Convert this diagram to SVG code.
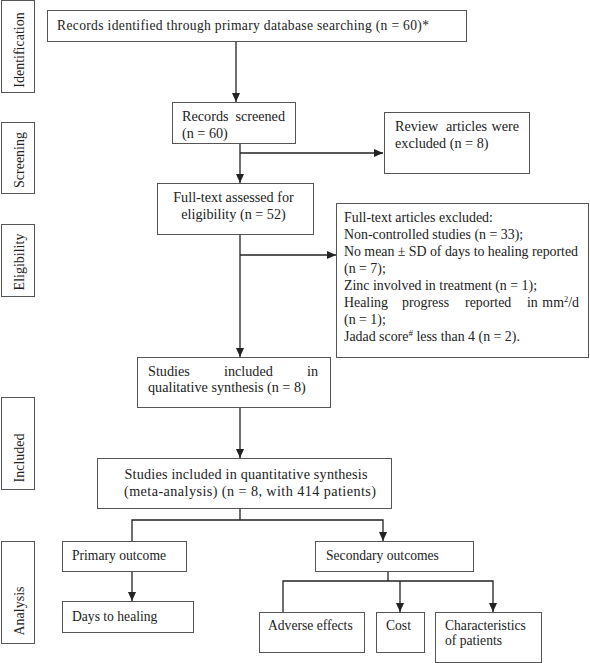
<svg xmlns="http://www.w3.org/2000/svg" width="590" height="663" viewBox="0 0 590 663">
<defs>
<marker id="ah" markerWidth="10" markerHeight="10" refX="9" refY="5" orient="auto" markerUnits="userSpaceOnUse">
<path d="M0,1 L9,5 L0,9 Z" fill="#222"/>
</marker>
<style>
.box{fill:#fff;stroke:#555;stroke-width:1}
.t{font-family:"Liberation Serif","Times New Roman",serif;font-size:13.6px;fill:#222}
.u{font-family:"Liberation Serif","Times New Roman",serif;font-size:14.2px;fill:#222}
.x{font-family:"Liberation Serif","Times New Roman",serif;font-size:13.9px;fill:#222}
.s{font-family:"Liberation Serif","Times New Roman",serif;font-size:14px;fill:#222}
.ln{fill:none;stroke:#222;stroke-width:1.3}
.ar{fill:none;stroke:#222;stroke-width:1.3;marker-end:url(#ah)}
</style>
</defs>
<rect width="590" height="663" fill="#fff"/>

<g id="side-identification"><rect class="box" x="1.5" y="0.5" width="33" height="92"/><text class="s" transform="translate(24,50) rotate(-90)" text-anchor="middle">Identification</text></g>
<g id="side-screening"><rect class="box" x="1.5" y="122.5" width="33" height="71"/><text class="s" transform="translate(24,160) rotate(-90)" text-anchor="middle">Screening</text></g>
<g id="side-eligibility"><rect class="box" x="1.5" y="224.5" width="33" height="72"/><text class="s" transform="translate(24,262) rotate(-90)" text-anchor="middle">Eligibility</text></g>
<g id="side-included"><rect class="box" x="1.5" y="397.5" width="33" height="92"/><text class="s" transform="translate(24,458) rotate(-90)" text-anchor="middle">Included</text></g>
<g id="side-analysis"><rect class="box" x="1.5" y="541.5" width="33" height="102"/><text class="s" transform="translate(24,611) rotate(-90)" text-anchor="middle">Analysis</text></g>

<g id="connectors">
<line class="ar" x1="236" y1="41" x2="236" y2="102"/>
<line class="ar" x1="240" y1="143" x2="240" y2="183"/>
<line class="ar" x1="240" y1="153" x2="383" y2="153"/>
<line class="ar" x1="240" y1="234" x2="240" y2="357"/>
<line class="ar" x1="240" y1="255" x2="336" y2="255"/>
<line class="ar" x1="240" y1="407" x2="240" y2="458"/>
<polyline class="ln" points="240,508 240,520"/>
<polyline class="ar" points="132,541 132,520 383,520 383,541"/>
<line class="ar" x1="132" y1="571" x2="132" y2="601"/>
<polyline class="ln" points="388,571 388,581"/>
<polyline class="ar" points="283,612 283,581 493,581 493,612"/>
<line class="ar" x1="400" y1="581" x2="400" y2="612"/>
</g>

<g id="n-identified"><rect class="box" x="47.5" y="10.5" width="419" height="31"/><text class="t" x="57" y="30" textLength="372" lengthAdjust="spacing">Records identified through primary database searching (n = 60)*</text></g>
<g id="n-screened"><rect class="box" x="172.5" y="102.5" width="123" height="41"/><text class="u" x="182" y="121">Records</text><text class="u" x="285" y="121" text-anchor="end">screened</text><text class="u" x="182" y="138">(n = 60)</text></g>
<g id="n-review"><rect class="box" x="384.5" y="112.5" width="145" height="61"/><text class="u" x="395" y="131">Review</text><text class="u" x="446" y="131">articles</text><text class="u" x="519" y="131" text-anchor="end">were</text><text class="u" x="395" y="148">excluded (n = 8)</text></g>
<g id="n-fulltext"><rect class="box" x="157.5" y="183.5" width="156" height="51"/><text class="u" x="233.5" y="202" text-anchor="middle">Full-text assessed for</text><text class="u" x="233.5" y="219" text-anchor="middle">eligibility (n = 52)</text></g>
<g id="n-excluded"><rect class="box" x="336.5" y="203.5" width="252" height="154"/>
<text class="x" x="344" y="222">Full-text articles excluded:</text>
<text class="x" x="344" y="239">Non-controlled studies (n = 33);</text>
<text class="x" x="344" y="256" textLength="234" lengthAdjust="spacing">No mean ± SD of days to healing reported</text>
<text class="x" x="344" y="273">(n = 7);</text>
<text class="x" x="344" y="290">Zinc involved in treatment (n = 1);</text>
<text class="x" x="344" y="307">Healing</text><text class="x" x="402" y="307">progress</text><text class="x" x="465" y="307">reported</text><text class="x" x="527" y="307">in</text><text class="x" x="579" y="307" text-anchor="end" font-size="13.2">mm<tspan font-size="8.5" dy="-5">2</tspan><tspan dy="5">/d</tspan></text>
<text class="x" x="344" y="324">(n = 1);</text>
<text class="x" x="344" y="341">Jadad score<tspan font-size="9" dy="-5">#</tspan><tspan dy="5"> less than 4 (n = 2).</tspan></text>
</g>
<g id="n-qualitative"><rect class="box" x="137.5" y="357.5" width="193" height="50"/><text class="u" x="148" y="376">Studies</text><text class="u" x="224" y="376">included</text><text class="u" x="318" y="376" text-anchor="end">in</text><text class="u" x="148" y="392">qualitative synthesis (n = 8)</text></g>
<g id="n-quantitative"><rect class="box" x="97.5" y="458.5" width="294" height="50"/><text class="u" x="246" y="479" text-anchor="middle" textLength="243" lengthAdjust="spacing">Studies included in quantitative synthesis</text><text class="u" x="250" y="496" text-anchor="middle" textLength="252" lengthAdjust="spacing">(meta-analysis) (n = 8, with 414 patients)</text></g>
<g id="n-primary"><rect class="box" x="62.5" y="541.5" width="124" height="30"/><text class="t" x="72" y="560">Primary outcome</text></g>
<g id="n-days"><rect class="box" x="62.5" y="601.5" width="131" height="31"/><text class="t" x="72" y="621">Days to healing</text></g>
<g id="n-secondary"><rect class="box" x="315.5" y="541.5" width="158" height="30"/><text class="t" x="326" y="560">Secondary outcomes</text></g>
<g id="n-adverse"><rect class="box" x="259.5" y="612.5" width="105" height="40"/><text class="t" x="268" y="630">Adverse effects</text></g>
<g id="n-cost"><rect class="box" x="376.5" y="612.5" width="48" height="40"/><text class="t" x="386" y="630">Cost</text></g>
<g id="n-characteristics"><rect class="box" x="435.5" y="612.5" width="106" height="50"/><text class="t" x="445" y="630">Characteristics</text><text class="t" x="445" y="645">of patients</text></g>
</svg>
